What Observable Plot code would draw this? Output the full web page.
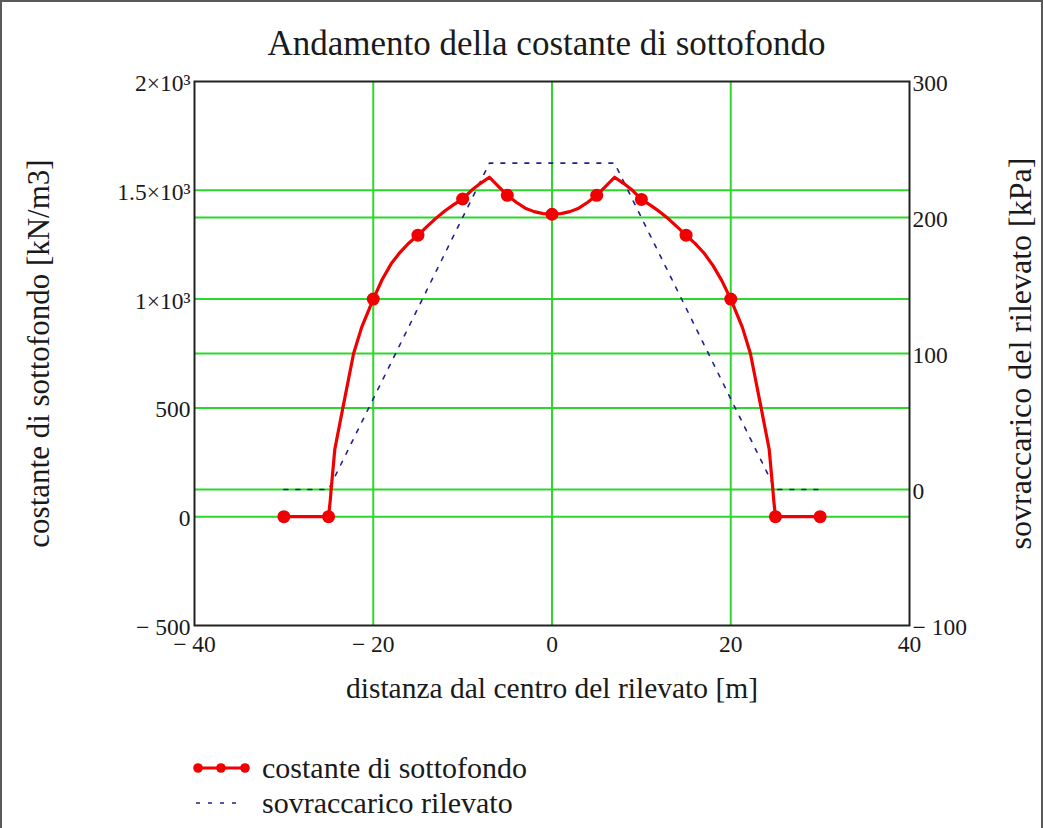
<!DOCTYPE html>
<html>
<head>
<meta charset="utf-8">
<script src="https://cdn.jsdelivr.net/npm/d3@7"></script>
<script src="https://cdn.jsdelivr.net/npm/@observablehq/plot@0.6"></script>
<style>
  body { margin: 0; background: #fff; }
  #wrap { position: relative; width: 1043px; height: 828px; overflow: hidden; background: #fff;
          font-family: "Liberation Serif", "Times New Roman", serif; color: #1a1a1a; }
  #border { position: absolute; left: 0; top: 0; width: 1043px; height: 860px; box-sizing: border-box;
            border: 2px solid #5a5a5a; pointer-events: none; }
  #chart { position: absolute; left: 0; top: 0; }
  #title { position: absolute; left: 25px; top: 24px; width: 1043px; text-align: center;
           font-family: "Liberation Serif", serif; font-size: 35px; line-height: 40px; }
  .leg { position: absolute; left: 190px; height: 34px; font-size: 30px; line-height: 34px;
         font-family: "Liberation Serif", serif; display: flex; align-items: center; }
  .leg svg { margin-right: 8px; }
</style>
</head>
<body>
<div id="wrap">
  <div id="chart"></div>
  <div id="title">Andamento della costante di sottofondo</div>
  <div class="leg" style="top:751px">
    <svg width="64" height="20"><line x1="6" y1="10" x2="56" y2="10" stroke="#f00000" stroke-width="3"/>
      <circle cx="8" cy="10" r="4.8" fill="#f00000"/><circle cx="31" cy="10" r="4.8" fill="#f00000"/><circle cx="55" cy="10" r="4.8" fill="#f00000"/></svg>
    <span>costante di sottofondo</span>
  </div>
  <div class="leg" style="top:786px">
    <svg width="64" height="20"><line x1="6" y1="10" x2="50" y2="10" stroke="#20208f" stroke-width="1.6" stroke-dasharray="4,8"/></svg>
    <span>sovraccarico rilevato</span>
  </div>
  <div id="border"></div>
</div>
<script>
// ---- data ----
// subgrade constant curve (kN/m3) vs distance from embankment centre (m)
const xCurve = [-30, -25, -24.8, -24.7, -24.3, -23.4, -22.2, -21.3, -20, -19, -18, -17, -16, -15, -14, -13, -12, -11, -10, -9, -8, -7, -6, -5, -4, -3, -2, -1, 0,
                1, 2, 3, 4, 5, 6, 7, 8, 9, 10, 11, 12, 13, 14, 15, 16, 17, 18, 19, 20, 21.3, 22.2, 23.4, 24.3, 24.7, 24.8, 25, 30];
const kCurve = [0, 0, 80, 130, 310, 500, 750, 870, 1000, 1090, 1162, 1215, 1258, 1294, 1333, 1371, 1405, 1434, 1460, 1500, 1532, 1560, 1518, 1477, 1445, 1418, 1402, 1393, 1390,
                1393, 1402, 1418, 1445, 1477, 1518, 1560, 1532, 1500, 1458, 1432, 1403, 1370, 1332, 1294, 1256, 1212, 1155, 1085, 1000, 870, 750, 500, 310, 130, 80, 0, 0];
// markers
const xMarks = [-30, -25, -20, -15, -10, -5, 0, 5, 10, 15, 20, 25, 30];
const kMarks = [0, 0, 1000, 1294, 1460, 1477, 1390, 1477, 1458, 1294, 1000, 0, 0];
// embankment surcharge (kPa), right axis
const xLoad = [-30, -25, -7, 7, 25, 30];
const qLoad = [0, 0, 240, 240, 0, 0];

// ticks and labels
const leftTicks = [-500, 0, 500, 1000, 1500, 2000];
const leftTickLabels = ["\u2212 500", "0", "500", "1\u00d710\u00b3", "1.5\u00d710\u00b3", "2\u00d710\u00b3"];
const rightTicks = [-100, 0, 100, 200, 300];
const rightTickLabels = ["\u2212 100", "0", "100", "200", "300"];
const xTicks = [-40, -20, 0, 20, 40];
const xTickLabels = ["\u2212 40", "\u2212 20", "0", "20", "40"];
const leftGrid = [0, 500, 1000, 1500];
const rightGrid = [0, 100, 200];
const xGrid = [-20, 0, 20];

// right axis [-100,300] shares the frame with left axis [-500,2000]
const leftDomain = [-500, 2000], rightDomain = [-100, 300];
const toLeft = d3.scaleLinear().domain(rightDomain).range(leftDomain);

const curve = xCurve.map((x, i) => ({x, y: kCurve[i]}));
const marks = xMarks.map((x, i) => ({x, y: kMarks[i]}));
const load = xLoad.map((x, i) => ({x, y: toLeft(qLoad[i])}));
const rightTicksL = rightTicks.map(toLeft);

const green = "#2bd82b";
const font = "'Liberation Serif', 'Times New Roman', serif";

const chart = Plot.plot({
  width: 1043, height: 720,
  marginLeft: 194, marginRight: 134, marginTop: 81, marginBottom: 95,
  style: {fontFamily: font, fontSize: "23px", color: "#1a1a1a", background: "transparent", overflow: "visible"},
  x: {domain: [-40, 40], axis: null},
  y: {domain: leftDomain, axis: null},
  marks: [
    Plot.gridY(leftGrid.concat(rightGrid.map(toLeft)), {stroke: green, strokeOpacity: 1, strokeWidth: 2}),
    Plot.gridX(xGrid, {stroke: green, strokeOpacity: 1, strokeWidth: 2}),
    Plot.line(load, {x: "x", y: "y", stroke: "#20208f", strokeWidth: 1.6, strokeDasharray: "4,8"}),
    Plot.line(curve, {x: "x", y: "y", stroke: "#f00000", strokeWidth: 3.2}),
    Plot.dot(marks, {x: "x", y: "y", r: 6.5, fill: "#f00000"}),
    Plot.frame({stroke: "#222", strokeWidth: 2}),
    Plot.axisY(leftTicks, {anchor: "left", tickSize: 0, tickPadding: 4, fontSize: 23.5, fontFamily: font, dy: 2,
      tickFormat: d => leftTickLabels[leftTicks.indexOf(d)], label: null}),
    Plot.axisY([], {anchor: "left", label: "costante di sottofondo [kN/m3]", labelAnchor: "center", labelArrow: "none",
      labelOffset: 168, fontSize: 31, fontFamily: font}),
    Plot.axisY(rightTicksL, {anchor: "right", tickSize: 0, tickPadding: 3, fontSize: 23.5, fontFamily: font, dy: 2,
      tickFormat: d => rightTickLabels[rightTicksL.indexOf(d)], label: null}),
    Plot.axisY([], {anchor: "right", label: "sovraccarico del rilevato [kPa]", labelAnchor: "center", labelArrow: "none",
      labelOffset: 121, fontSize: 32, fontFamily: font}),
    Plot.axisX(xTicks, {anchor: "bottom", tickSize: 0, tickPadding: 10, fontSize: 23.5, fontFamily: font,
      tickFormat: d => xTickLabels[xTicks.indexOf(d)], label: null}),
    Plot.axisX([], {anchor: "bottom", label: "distanza dal centro del rilevato [m]", labelAnchor: "center", labelArrow: "none",
      labelOffset: 72, fontSize: 29.5, fontFamily: font})
  ]
});
document.getElementById("chart").appendChild(chart);
</script>
</body>
</html>
